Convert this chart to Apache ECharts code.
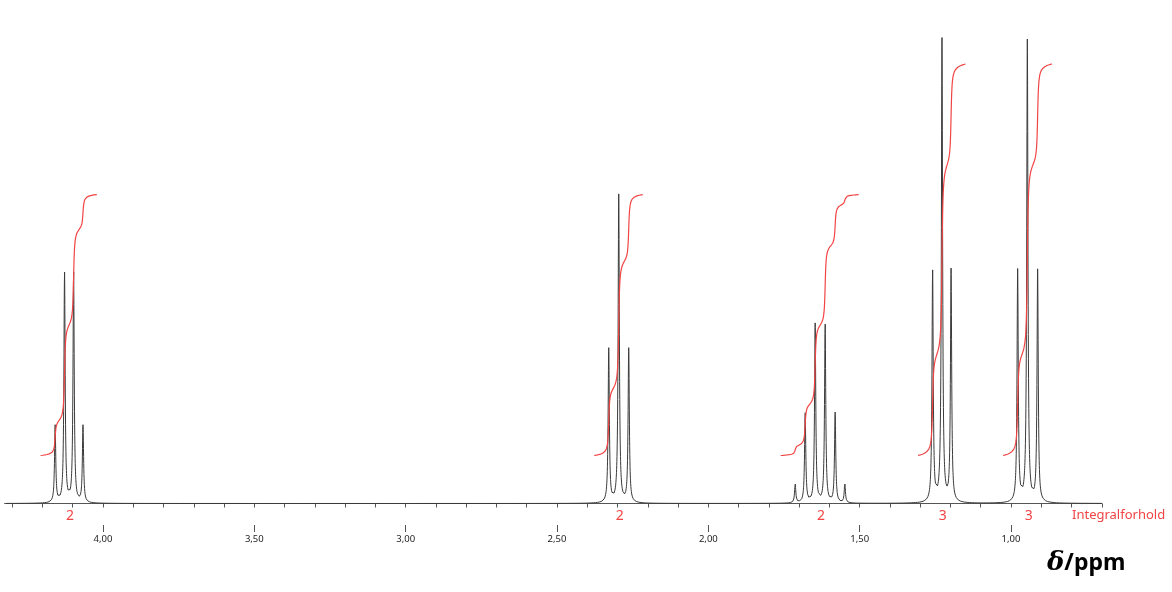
<!DOCTYPE html>
<html lang="no">
<head>
    <meta charset="UTF-8">
    <title>1H NMR</title>
    <script src="https://fastly.jsdelivr.net/npm/echarts@6.0.0/dist/echarts.min.js"></script>
    <style>
        html, body { margin: 0; padding: 0; background: #fff; }
        #nmr { width: 1172px; height: 592px; }
    </style>
</head>
<body>
    <div id="nmr"></div>
    <script>
        // peak lists (ppm, height in px above baseline)
        var peakShifts = [
            [4.158, 4.127, 4.097, 4.066],
            [2.329, 2.296, 2.263],
            [1.713, 1.680, 1.647, 1.614, 1.581, 1.549],
            [1.259, 1.228, 1.198],
            [0.978, 0.946, 0.912]
        ];
        var peakHeights = [
            [77, 231, 231, 77],
            [154, 308, 154],
            [19, 90, 179, 179, 90, 19],
            [232, 463, 232],
            [232, 462, 232]
        ];
        var integralLabels = ['2', '2', '2', '3', '3'];
        var axisLabelValues = [1.0, 1.5, 2.0, 2.5, 3.0, 3.5, 4.0];
        var minorTickValues = [0.7, 0.8, 0.9, 1.0, 1.1, 1.2, 1.3, 1.4, 1.5, 1.6, 1.7, 1.8, 1.9,
            2.0, 2.1, 2.2, 2.3, 2.4, 2.5, 2.6, 2.7, 2.8, 2.9, 3.0, 3.1, 3.2, 3.3, 3.4, 3.5,
            3.6, 3.7, 3.8, 3.9, 4.0, 4.1, 4.2, 4.3];

        var xMin = 0.70, xMax = 4.325;
        var halfWidth = 0.0024;      // lorentzian half width (ppm)
        var integralPad = 0.048;     // integral runs this far past the outer lines
        var integralOffset = 48;     // integral curves start this high above baseline
        var pxPerProton = 130.5;

        var red = '#f24444';
        var grey = '#3a3a3a';

        function lorentz(x) {
            var y = 0;
            for (var g = 0; g < peakShifts.length; g++) {
                for (var i = 0; i < peakShifts[g].length; i++) {
                    var d = x - peakShifts[g][i];
                    y += peakHeights[g][i] * halfWidth * halfWidth / (d * d + halfWidth * halfWidth);
                }
            }
            return y;
        }

        // spectrum trace: coarse steps on the flat baseline, fine steps round the multiplets
        var xs = [];
        var x;
        for (x = xMin; x <= xMax + 1e-9; x += 0.01) xs.push(+x.toFixed(5));
        peakShifts.forEach(function (g) {
            var hi = Math.max.apply(null, g) + 0.06;
            var lo = Math.min.apply(null, g) - 0.06;
            for (var t = lo; t <= hi; t += 0.0004) xs.push(+t.toFixed(5));
            g.forEach(function (p) { xs.push(p); });
        });
        xs.sort(function (a, b) { return a - b; });
        xs = xs.filter(function (v, i) { return i === 0 || v - xs[i - 1] > 1e-6; });
        var spectrum = xs.map(function (x) { return [x, lorentz(x)]; });

        // integral traces, one per multiplet, running from high to low ppm
        var integrals = peakShifts.map(function (g, gi) {
            var hi = Math.max.apply(null, g) + integralPad;
            var lo = Math.min.apply(null, g) - integralPad;
            var pts = [], sum = 0, prev = lorentz(hi), step = 0.0003;
            pts.push([hi, 0]);
            for (var x = hi - step; x > lo; x -= step) {
                var cur = lorentz(x);
                sum += (prev + cur) / 2 * step;
                prev = cur;
                pts.push([x, sum]);
            }
            var total = sum;
            var rise = parseFloat(integralLabels[gi]) * pxPerProton;
            return pts.map(function (p) { return [p[0], integralOffset + p[1] / total * rise]; });
        });

        var chart = echarts.init(document.getElementById('nmr'));

        var series = [{
            type: 'line',
            data: spectrum,
            showSymbol: false,
            lineStyle: { color: grey, width: 1 },
            animation: false,
            z: 2
        }];
        integrals.forEach(function (d) {
            series.push({
                type: 'line',
                data: d,
                showSymbol: false,
                lineStyle: { color: red, width: 1.2 },
                animation: false,
                z: 3
            });
        });

        chart.setOption({
            animation: false,
            grid: { left: 4.6, right: 70.2, top: 3, bottom: 84, outerBoundsMode: 'none' },
            xAxis: [{
                type: 'value',
                inverse: true,
                min: xMin,
                max: xMax,
                position: 'bottom',
                offset: 17,
                axisLine: { show: true, lineStyle: { color: '#555', width: 1 } },
                axisTick: { show: true, length: 4, customValues: minorTickValues, lineStyle: { color: '#555' } },
                axisLabel: {
                    customValues: axisLabelValues,
                    formatter: function (v) { return v.toFixed(2).replace('.', ','); },
                    fontSize: 9.5,
                    color: '#222',
                    margin: 9,
                    fontFamily: 'Noto Sans'
                },
                splitLine: { show: false }
            }, {
                type: 'value',
                inverse: true,
                min: xMin,
                max: xMax,
                position: 'bottom',
                offset: 17,
                axisLine: { show: false },
                axisTick: { show: true, length: 7, customValues: axisLabelValues, lineStyle: { color: '#555' } },
                axisLabel: { show: false },
                splitLine: { show: false }
            }],
            yAxis: { type: 'value', min: -4.5, max: 500.5, show: false },
            series: series
        });

        // integral values under each multiplet, plus titles
        var graphics = [];
        peakShifts.forEach(function (g, gi) {
            var mid = (Math.max.apply(null, g) + Math.min.apply(null, g)) / 2;
            var px = chart.convertToPixel({ xAxisIndex: 0, yAxisIndex: 0 }, [mid, 0]);
            graphics.push({
                type: 'text',
                x: px[0] + 1,
                y: 516,
                style: {
                    text: integralLabels[gi],
                    fill: red,
                    font: '14px "Noto Sans"',
                    textAlign: 'center',
                    textVerticalAlign: 'middle'
                }
            });
        });
        graphics.push({
            type: 'text',
            x: 1072,
            y: 515,
            style: {
                text: 'Integralforhold',
                fill: red,
                font: '13px "Noto Sans"',
                textAlign: 'left',
                textVerticalAlign: 'middle'
            }
        });
        graphics.push({
            type: 'text',
            x: 1047,
            y: 563,
            style: {
                text: '{d|δ}{p|/ppm}',
                rich: {
                    d: { font: 'italic bold 26px "DejaVu Serif"', fill: '#000' },
                    p: { font: 'bold 23px "Noto Sans"', fill: '#000' }
                },
                textAlign: 'left',
                textVerticalAlign: 'middle'
            }
        });
        chart.setOption({ graphic: graphics });
    </script>
</body>
</html>
